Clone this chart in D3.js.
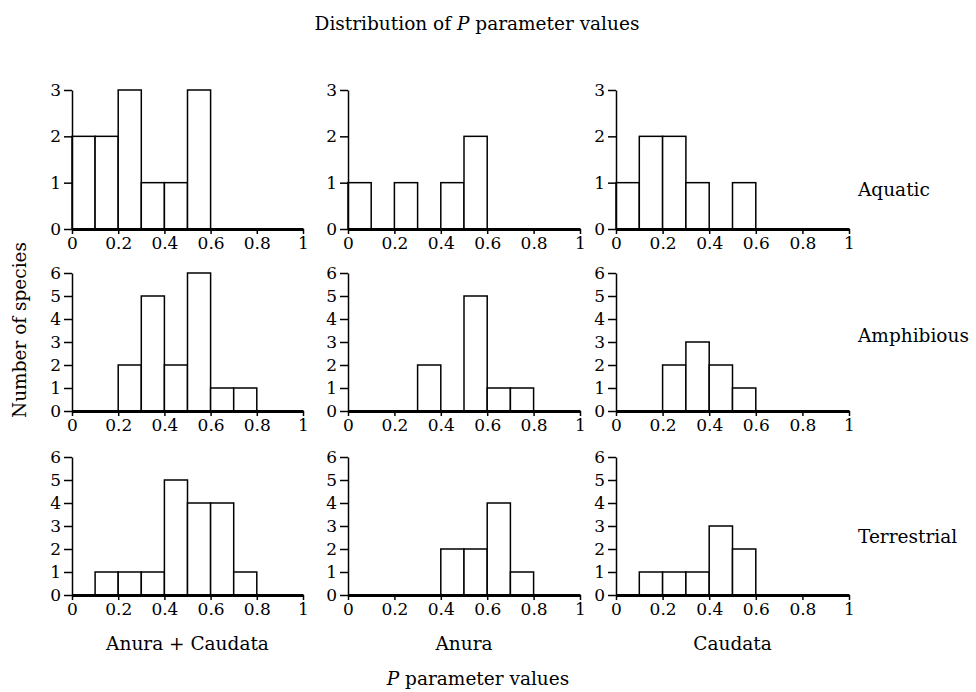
<!DOCTYPE html>
<html>
<head>
<meta charset="utf-8">
<script src="https://cdn.jsdelivr.net/npm/d3@7"></script>
<style>
  body { margin: 0; background: #fff; }
  text { font-family: "DejaVu Serif", serif; fill: #000; }
</style>
</head>
<body>
<script>
// bin edges and labels
const binEdges = [0, 0.1, 0.2, 0.3, 0.4, 0.5, 0.6, 0.7, 0.8, 0.9, 1.0];
const xTicks = [0, 0.2, 0.4, 0.6, 0.8, 1];
const groups = ['Anura + Caudata', 'Anura', 'Caudata'];
const habitats = ['Aquatic', 'Amphibious', 'Terrestrial'];
const yMax = [3, 6, 6];

// counts per bin (0-0.1, 0.1-0.2, ... 0.9-1)
const aquaticAll      = [2, 2, 3, 1, 1, 3, 0, 0, 0, 0];
const aquaticAnura    = [1, 0, 1, 0, 1, 2, 0, 0, 0, 0];
const aquaticCaudata  = [1, 2, 2, 1, 0, 1, 0, 0, 0, 0];
const amphibAll       = [0, 0, 2, 5, 2, 6, 1, 1, 0, 0];
const amphibAnura     = [0, 0, 0, 2, 0, 5, 1, 1, 0, 0];
const amphibCaudata   = [0, 0, 2, 3, 2, 1, 0, 0, 0, 0];
const terrAll         = [0, 1, 1, 1, 5, 4, 4, 1, 0, 0];
const terrAnura       = [0, 0, 0, 0, 2, 2, 4, 1, 0, 0];
const terrCaudata     = [0, 1, 1, 1, 3, 2, 0, 0, 0, 0];

const counts = [
  [aquaticAll, aquaticAnura, aquaticCaudata],
  [amphibAll, amphibAnura, amphibCaudata],
  [terrAll, terrAnura, terrCaudata]
];

const width = 976, height = 692;
const colX = [[72, 303], [348, 580], [616, 849]];
const rowY = [[229, 90], [411, 273], [595, 457]];
const labelSize = '18.5px', tickSize = '17px';

const svg = d3.select('body').append('svg')
  .attr('width', width)
  .attr('height', height);

svg.append('text')
  .attr('x', 477).attr('y', 30)
  .attr('text-anchor', 'middle')
  .style('font-size', labelSize)
  .html('Distribution of <tspan font-style="italic">P</tspan> parameter values');

habitats.forEach((hab, r) => {
  groups.forEach((grp, c) => {
    const x = d3.scaleLinear().domain([0, 1]).range(colX[c]);
    const y = d3.scaleLinear().domain([0, yMax[r]]).range(rowY[r]);
    const g = svg.append('g');
    const bins = counts[r][c].map((v, i) => ({x0: binEdges[i], x1: binEdges[i + 1], v: v}));

    g.selectAll('rect.bar')
      .data(bins.filter(d => d.v > 0))
      .enter().append('rect')
      .attr('class', 'bar')
      .attr('x', d => x(d.x0))
      .attr('width', d => x(d.x1) - x(d.x0))
      .attr('y', d => y(d.v))
      .attr('height', d => y(0) - y(d.v))
      .attr('fill', '#fff')
      .attr('stroke', '#000')
      .attr('stroke-width', 1.5);

    // y axis
    const ya = g.append('g')
      .attr('transform', `translate(${x(0)},0)`)
      .call(d3.axisLeft(y).ticks(yMax[r]).tickSize(8).tickSizeOuter(0).tickPadding(3));
    ya.select('.domain').attr('stroke-width', 1.5);
    ya.selectAll('.tick line').attr('stroke-width', 1.5);
    ya.selectAll('.tick text').style('font-size', tickSize).style('font-family', '"DejaVu Serif", serif');

    // x axis
    const xa = g.append('g')
      .attr('transform', `translate(0,${y(0)})`)
      .call(d3.axisBottom(x).tickValues(xTicks).tickFormat(d3.format('~g')).tickSize(5).tickSizeOuter(0).tickPadding(3));
    xa.select('.domain').attr('stroke-width', 3);
    xa.selectAll('.tick line').attr('stroke-width', 1.5);
    xa.selectAll('.tick text').style('font-size', tickSize).style('font-family', '"DejaVu Serif", serif');

    if (r === 2) {
      svg.append('text')
        .attr('x', (colX[c][0] + colX[c][1]) / 2)
        .attr('y', 650)
        .attr('text-anchor', 'middle')
        .style('font-size', labelSize)
        .text(grp);
    }
  });
});

const rowLabelY = [196, 342, 543];
habitats.forEach((hab, r) => {
  svg.append('text')
    .attr('x', 858).attr('y', rowLabelY[r])
    .style('font-size', labelSize)
    .text(hab);
});

svg.append('text')
  .attr('transform', 'translate(26,330) rotate(-90)')
  .attr('text-anchor', 'middle')
  .style('font-size', labelSize)
  .text('Number of species');

svg.append('text')
  .attr('x', 478).attr('y', 685)
  .attr('text-anchor', 'middle')
  .style('font-size', labelSize)
  .html('<tspan font-style="italic">P</tspan> parameter values');
</script>
</body>
</html>
